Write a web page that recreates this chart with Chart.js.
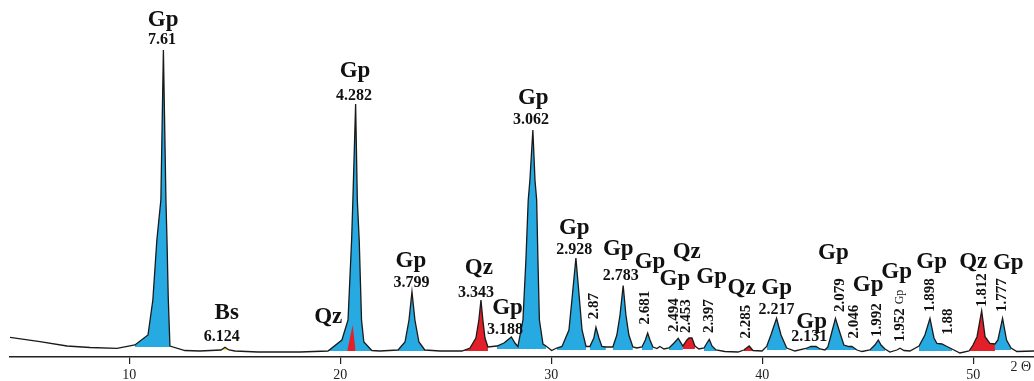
<!DOCTYPE html>
<html>
<head>
<meta charset="utf-8">
<script src="https://cdn.jsdelivr.net/npm/chart.js@4.4.0/dist/chart.umd.min.js"></script>
<style>
  html, body { margin: 0; padding: 0; background: #fff; }
  #wrap { width: 1034px; height: 381px; }
</style>
</head>
<body>
<div id="wrap"><canvas id="xrd" width="1034" height="381"></canvas></div>
<script>
// diffractogram trace: 2θ (deg) and intensity (arb. units)
const twoTheta = [
  4.35, 5.77, 7.05, 8.14, 9.42, 10.27, 10.89, 11.12, 11.31, 11.50,
  11.62, 11.74, 11.79, 11.85, 11.93, 12.64, 13.35, 14.35, 14.54, 14.73,
  15.01, 16.10, 18.09, 19.42, 20.08, 20.37, 20.54, 20.60, 20.73, 20.81,
  20.90, 21.01, 21.12, 21.50, 21.88, 22.74, 23.07, 23.26, 23.40, 23.54,
  23.73, 24.01, 24.73, 25.77, 26.15, 26.43, 26.57, 26.67, 26.76, 26.86,
  27.00, 27.43, 27.76, 28.11, 28.28, 28.42, 28.66, 28.80, 28.91, 28.99,
  29.13, 29.23, 29.31, 29.37, 29.44, 29.61, 29.75, 30.02, 30.26, 30.51,
  30.84, 30.98, 31.17, 31.34, 31.46, 31.65, 31.83, 32.02, 32.12, 32.26,
  32.40, 32.59, 32.92, 33.11, 33.26, 33.41, 33.54, 33.68, 33.87, 34.06,
  34.30, 34.46, 34.57, 34.68, 34.82, 35.01, 35.15, 35.34, 35.58, 35.82,
  36.02, 36.24, 36.43, 36.53, 36.67, 36.81, 37.00, 37.24, 37.38, 37.49,
  37.62, 37.81, 38.23, 38.85, 39.13, 39.38, 39.56, 39.99, 40.21, 40.41,
  40.68, 40.89, 41.16, 41.55, 42.07, 42.31, 42.55, 42.74, 42.97, 43.11,
  43.30, 43.47, 43.64, 43.87, 44.11, 44.25, 44.49, 44.73, 45.10, 45.34,
  45.50, 45.63, 45.82, 46.05, 46.38, 46.53, 46.72, 47.00, 47.43, 47.71,
  47.95, 48.14, 48.28, 48.52, 48.71, 48.99, 49.37, 49.80, 49.99, 50.18,
  50.40, 50.56, 50.79, 51.03, 51.17, 51.39, 51.58, 51.79, 52.07, 52.88
];
const intensity = [
  19.7, 15.3, 11, 9.5, 8.7, 12, 22, 57, 117, 157,
  307, 157, 117, 59, 11, 6.5, 6, 7, 9.7, 7,
  6, 5, 5, 6, 17, 37, 117, 157, 253, 157,
  117, 37, 15, 6.5, 6, 7, 15, 37, 65.3, 37,
  15, 7, 6, 6, 9, 19, 37, 57, 37, 19,
  10, 11, 14, 20, 14, 10.5, 37, 97, 157, 177,
  227, 177, 157, 97, 37, 13, 11, 6.5, 9, 10.5,
  27, 57, 99, 57, 27, 10.5, 10.5, 19, 29.7, 19,
  10.5, 10, 10, 22, 42, 71.5, 42, 22, 10, 9,
  10, 17, 24, 17, 10, 8.5, 10.5, 8, 9, 14,
  18.7, 11, 17, 19, 19, 11, 8, 9, 14, 17.7,
  11, 7, 5.5, 5, 7, 11, 6.5, 6, 10.5, 22,
  38.7, 22, 9, 6, 8.5, 10.5, 10.5, 8, 7, 10,
  25, 38.7, 27, 12, 10.5, 10.5, 7, 5.5, 7, 12,
  17, 12, 8, 5, 7, 8.7, 6.5, 6, 11, 22,
  38.7, 19, 13.5, 13, 11, 8, 4, 6, 12, 20.3,
  46.3, 20.3, 13.7, 13, 17, 38.7, 17, 9, 5.5, 6
];

// quartz reflection hidden under the 4.282 gypsum peak
const qzInnerTheta = [20.33, 20.59, 20.73];
const qzInnerInt = [6, 32, 6];

// shaded peak areas: phase, 2θ from, 2θ to, background level
const peakRegions = [
  ['Gp', 10.27, 11.93, 10], ['Bs', 14.35, 14.73, 7], ['Gp', 19.42, 21.50, 6],
  ['Gp', 22.74, 24.01, 6], ['Qz', 25.77, 27.00, 6], ['Gp', 27.43, 29.75, 8],
  ['Gp', 30.26, 31.65, 7], ['Gp', 31.83, 32.59, 7], ['Gp', 32.92, 33.87, 7],
  ['Gp', 34.30, 34.82, 7], ['Gp', 35.58, 36.24, 7], ['Qz', 36.24, 36.81, 8],
  ['Gp', 37.24, 37.81, 6], ['Qz', 39.13, 39.56, 6], ['Gp', 40.21, 41.16, 7],
  ['Gp', 42.07, 42.74, 7], ['Gp', 42.97, 44.49, 7], ['Gp', 45.10, 45.82, 6],
  ['Gp', 47.43, 48.99, 6], ['Qz', 49.80, 51.03, 6], ['Gp', 51.03, 51.79, 7]
];

// peak labels
const phaseText = ['Gp', 'Bs', 'Qz', 'Gp', 'Gp', 'Qz', 'Gp', 'Gp', 'Gp', 'Gp', 'Gp', 'Gp',
  'Qz', 'Gp', 'Qz', 'Gp', 'Gp', 'Gp', 'Gp', 'Gp', 'Gp', 'Qz', 'Gp'];
const dText = ['7.61', '6.124', '4.282', '3.799', '3.343', '3.188', '3.062', '2.928', '2.87',
  '2.783', '2.681', '2.494', '2.453', '2.397', '2.285', '2.217', '2.131', '2.079', '2.046',
  '1.992', '1.952', '1.898', '1.88', '1.812', '1.777'];

// label placement in data units [2θ, intensity] (+ rotated flag for d values)
const phasePos = [
  [11.61, 337], [14.62, 44], [19.43, 40], [20.70, 286], [23.35, 96], [26.57, 88.7],
  [27.93, 49], [29.15, 258.7], [31.09, 128.7], [33.18, 107.7], [34.68, 95.3], [35.86, 78],
  [36.42, 105.3], [37.60, 80.3], [39.02, 68.7], [40.68, 68.7], [42.34, 35.3], [43.37, 103.7],
  [45.02, 72], [46.37, 85.3], [48.03, 95.3], [50.00, 95.3], [51.66, 93.7]
];
const dPos = [
  [11.55, 317, 0], [14.39, 20, 0], [20.65, 261, 0], [23.38, 73.7, 0], [26.43, 64.3, 0],
  [27.81, 27, 0], [29.04, 237, 0], [31.09, 107, 0], [32.02, 51, 1], [33.30, 81, 0],
  [34.44, 49.5, 1], [35.83, 42, 1], [36.38, 41, 1], [37.47, 41, 1], [39.26, 35.3, 1],
  [40.68, 47, 0], [42.23, 20.3, 0], [43.68, 62, 1], [44.34, 35.3, 1], [45.45, 37, 1],
  [46.53, 32, 1], [47.98, 62, 1], [48.82, 35.3, 1], [50.40, 67, 1], [51.35, 62, 1]
];

const fillColors = { Gp: '#27a9e1', Qz: '#e3202a', Bs: '#f3df4a' };

const tracePts = twoTheta.map((t, i) => ({ x: t, y: intensity[i] }));

const regionSets = peakRegions.map(([ph, from, to, base]) => ({
  data: tracePts.filter(p => p.x >= from && p.x <= to),
  fill: { value: base },
  backgroundColor: fillColors[ph],
  borderColor: 'rgba(0,0,0,0)',
  borderWidth: 0,
  pointRadius: 0,
  order: 2
}));

const labelPlugin = {
  id: 'peakLabels',
  afterDatasetsDraw(chart) {
    const { ctx, scales: { x, y } } = chart;
    ctx.save();
    ctx.fillStyle = '#111';
    ctx.textAlign = 'center';
    ctx.textBaseline = 'middle';
    ctx.font = 'bold 23px "Liberation Serif", "Times New Roman", serif';
    phaseText.forEach((txt, i) => {
      ctx.fillText(txt, x.getPixelForValue(phasePos[i][0]), y.getPixelForValue(phasePos[i][1]));
    });
    dText.forEach((txt, i) => {
      const px = x.getPixelForValue(dPos[i][0]);
      const py = y.getPixelForValue(dPos[i][1]);
      if (dPos[i][2]) {
        ctx.font = 'bold 15px "Liberation Serif", "Times New Roman", serif';
        ctx.save();
        ctx.translate(px, py);
        ctx.rotate(-Math.PI / 2);
        ctx.fillText(txt, 0, 0);
        ctx.restore();
      } else {
        ctx.font = 'bold 16px "Liberation Serif", "Times New Roman", serif';
        ctx.fillText(txt, px, py);
      }
    });
    // stray small rotated mark above 1.952
    ctx.save();
    ctx.font = '12px "Liberation Serif", serif';
    ctx.translate(x.getPixelForValue(46.53), y.getPixelForValue(60));
    ctx.rotate(-Math.PI / 2);
    ctx.fillText('Gp', 0, 0);
    ctx.restore();
    // axis unit
    ctx.font = '14px "Liberation Serif", serif';
    ctx.fillStyle = '#222';
    ctx.fillText('2 \u0398', x.getPixelForValue(52.26), chart.chartArea.bottom + 10);
    ctx.restore();
  }
};

new Chart(document.getElementById('xrd'), {
  type: 'line',
  data: {
    datasets: [
      {
        data: tracePts,
        borderColor: '#1a1a1a',
        borderWidth: 1.3,
        pointRadius: 0,
        fill: false,
        tension: 0,
        order: 0
      },
      {
        data: qzInnerTheta.map((t, i) => ({ x: t, y: qzInnerInt[i] })),
        fill: { value: 6 },
        backgroundColor: fillColors.Qz,
        borderColor: 'rgba(0,0,0,0)',
        borderWidth: 0,
        pointRadius: 0,
        order: 1
      },
      ...regionSets
    ]
  },
  options: {
    responsive: false,
    animation: false,
    devicePixelRatio: 1,
    layout: { padding: { left: 10, right: 0, top: 0, bottom: 0 } },
    plugins: { legend: { display: false }, tooltip: { enabled: false } },
    scales: {
      x: {
        type: 'linear',
        min: 4.35,
        max: 52.88,
        afterFit: s => { s.height = 24; },
        border: { display: true, color: '#222', width: 1.5 },
        grid: { drawOnChartArea: false, drawTicks: true, tickLength: 7, color: '#222', lineWidth: 1.2 },
        ticks: {
          stepSize: 10,
          includeBounds: false,
          autoSkip: false,
          maxRotation: 0,
          padding: 3,
          color: '#222',
          font: { family: '"Liberation Serif", serif', size: 14 }
        }
      },
      y: { display: false, min: 0, max: 357 }
    }
  },
  plugins: [labelPlugin]
});
</script>
</body>
</html>
